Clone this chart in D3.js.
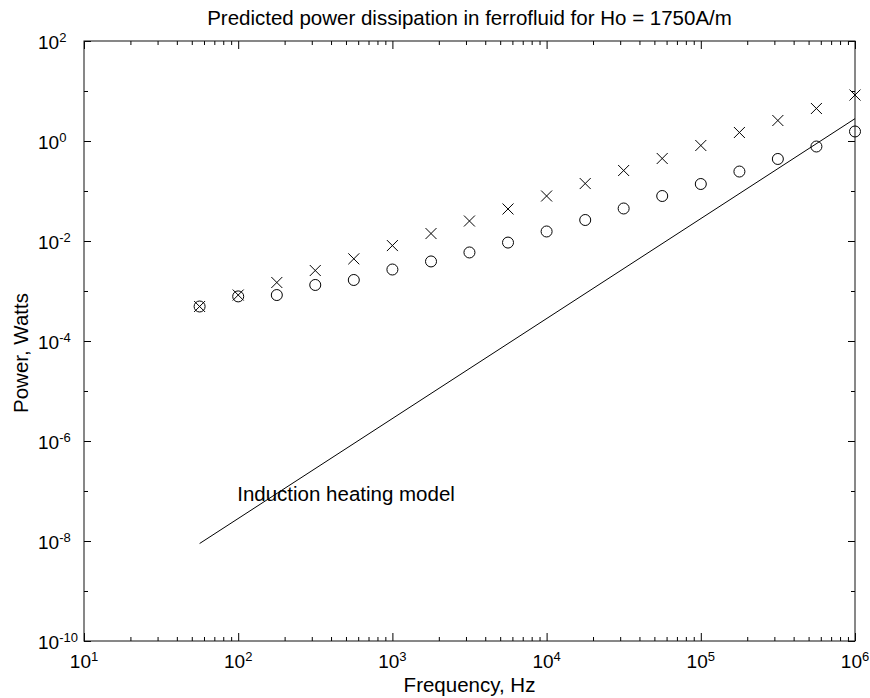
<!DOCTYPE html>
<html>
<head>
<meta charset="utf-8">
<script src="https://cdn.jsdelivr.net/npm/d3@7"></script>
<style>
  html, body { margin: 0; padding: 0; background: #fff; overflow: hidden; }
  svg { display: block; }
  text { font-family: "Liberation Sans", Arial, sans-serif; fill: #000; }
</style>
</head>
<body>
<div id="chart"></div>
<script>
// data
const frequencies = [56.2, 100, 178, 316, 562, 1000, 1780, 3160, 5620, 1e4, 1.78e4, 3.16e4, 5.62e4, 1e5, 1.78e5, 3.16e5, 5.62e5, 1e6];
const powerCross = [4.9e-4, 8.3e-4, 1.48e-3, 2.57e-3, 4.4e-3, 8.1e-3, 0.0141, 0.0251, 0.0437, 0.0794, 0.141, 0.257, 0.447, 0.813, 1.48, 2.57, 4.47, 8.3];
const powerCircle = [4.9e-4, 7.8e-4, 8.3e-4, 1.32e-3, 1.66e-3, 2.69e-3, 3.9e-3, 5.9e-3, 9.3e-3, 0.0155, 0.0263, 0.0447, 0.0794, 0.138, 0.245, 0.437, 0.776, 1.55];
const modelFreq = [56.2, 1e6];
const modelPower = [8.9e-9, 2.8];
const xTickExps = [1, 2, 3, 4, 5, 6];
const yTickExps = [-10, -8, -6, -4, -2, 0, 2];
const yMinorExps = [-9, -7, -5, -3, -1, 1];

const width = 870, height = 698;
const margin = { top: 41, right: 15, bottom: 57, left: 84 };
const innerWidth = width - margin.left - margin.right;
const innerHeight = height - margin.top - margin.bottom;

const svg = d3.select("#chart").append("svg").attr("width", width).attr("height", height);
const chart = svg.append("g").attr("transform", `translate(${margin.left},${margin.top})`);

const x = d3.scaleLog().domain([10, 1e6]).range([0, innerWidth]);
const y = d3.scaleLog().domain([1e-10, 1e2]).range([innerHeight, 0]);

const xMajor = xTickExps.map(e => Math.pow(10, e));
const xMinor = [];
xTickExps.slice(0, -1).forEach(e => { for (let k = 2; k <= 9; k++) xMinor.push(k * Math.pow(10, e)); });
const yMajor = yTickExps.map(e => Math.pow(10, e));
const yMinor = yMinorExps.map(e => Math.pow(10, e));

// ticks point inward on all four sides
function ticks(axisFn, scale, values, len, transform) {
    const g = chart.append("g").attr("transform", transform)
        .call(axisFn(scale).tickValues(values).tickSize(-len).tickFormat(""));
    g.select(".domain").remove();
    g.selectAll("text").remove();
    g.selectAll("line").attr("stroke", "#000").attr("stroke-width", 1);
}
ticks(d3.axisBottom, x, xMajor, 8, `translate(0,${innerHeight})`);
ticks(d3.axisBottom, x, xMinor, 4, `translate(0,${innerHeight})`);
ticks(d3.axisTop, x, xMajor, 8, "translate(0,0)");
ticks(d3.axisTop, x, xMinor, 4, "translate(0,0)");
ticks(d3.axisLeft, y, yMajor, 7, "translate(0,0)");
ticks(d3.axisLeft, y, yMinor, 4, "translate(0,0)");
ticks(d3.axisRight, y, yMajor, 7, `translate(${innerWidth},0)`);
ticks(d3.axisRight, y, yMinor, 4, `translate(${innerWidth},0)`);

chart.append("rect").attr("width", innerWidth).attr("height", innerHeight)
    .attr("fill", "none").attr("stroke", "#111").attr("stroke-width", 1);

// tick labels as 10^n
function powerLabel(sel) {
    sel.each(function(d) {
        const t = d3.select(this);
        t.append("tspan").text("10");
        t.append("tspan").attr("dy", -7).style("font-size", "13px").text(d);
    });
}
chart.selectAll(".xlab").data(xTickExps).enter().append("text")
    .attr("x", d => x(Math.pow(10, d))).attr("y", innerHeight + 27)
    .attr("text-anchor", "middle").style("font-size", "19px")
    .call(powerLabel);

chart.selectAll(".ylab").data(yTickExps).enter().append("text")
    .attr("x", -46).attr("y", d => y(Math.pow(10, d)) + 7.5)
    .style("font-size", "19px")
    .call(powerLabel);

// model line
const model = modelFreq.map((f, i) => ({ f, p: modelPower[i] }));
chart.append("path").datum(model)
    .attr("fill", "none").attr("stroke", "#000").attr("stroke-width", 1)
    .attr("d", d3.line().x(d => x(d.f)).y(d => y(d.p)));

// circles
chart.selectAll(".circ").data(frequencies).enter().append("circle")
    .attr("cx", d => x(d)).attr("cy", (d, i) => y(powerCircle[i])).attr("r", 5.5)
    .attr("fill", "none").attr("stroke", "#000").attr("stroke-width", 1);

// crosses
chart.selectAll(".xmark").data(frequencies).enter().append("path")
    .attr("transform", (d, i) => `translate(${x(d)},${y(powerCross[i])})`)
    .attr("d", "M-5.5,-5.5L5.5,5.5M-5.5,5.5L5.5,-5.5")
    .attr("fill", "none").attr("stroke", "#000").attr("stroke-width", 1);

chart.append("text").attr("x", x(1e2) - 1).attr("y", 460)
    .style("font-size", "20.5px").text("Induction heating model");

svg.append("text").attr("x", margin.left + innerWidth / 2).attr("y", 25)
    .attr("text-anchor", "middle").style("font-size", "20.5px")
    .text("Predicted power dissipation in ferrofluid for Ho = 1750A/m");

svg.append("text").attr("x", margin.left + innerWidth / 2).attr("y", 692)
    .attr("text-anchor", "middle").style("font-size", "20.5px").text("Frequency, Hz");

svg.append("text").attr("transform", `translate(28,${margin.top + innerHeight / 2 + 12}) rotate(-90)`)
    .attr("text-anchor", "middle").style("font-size", "20.5px").text("Power, Watts");
</script>
</body>
</html>
